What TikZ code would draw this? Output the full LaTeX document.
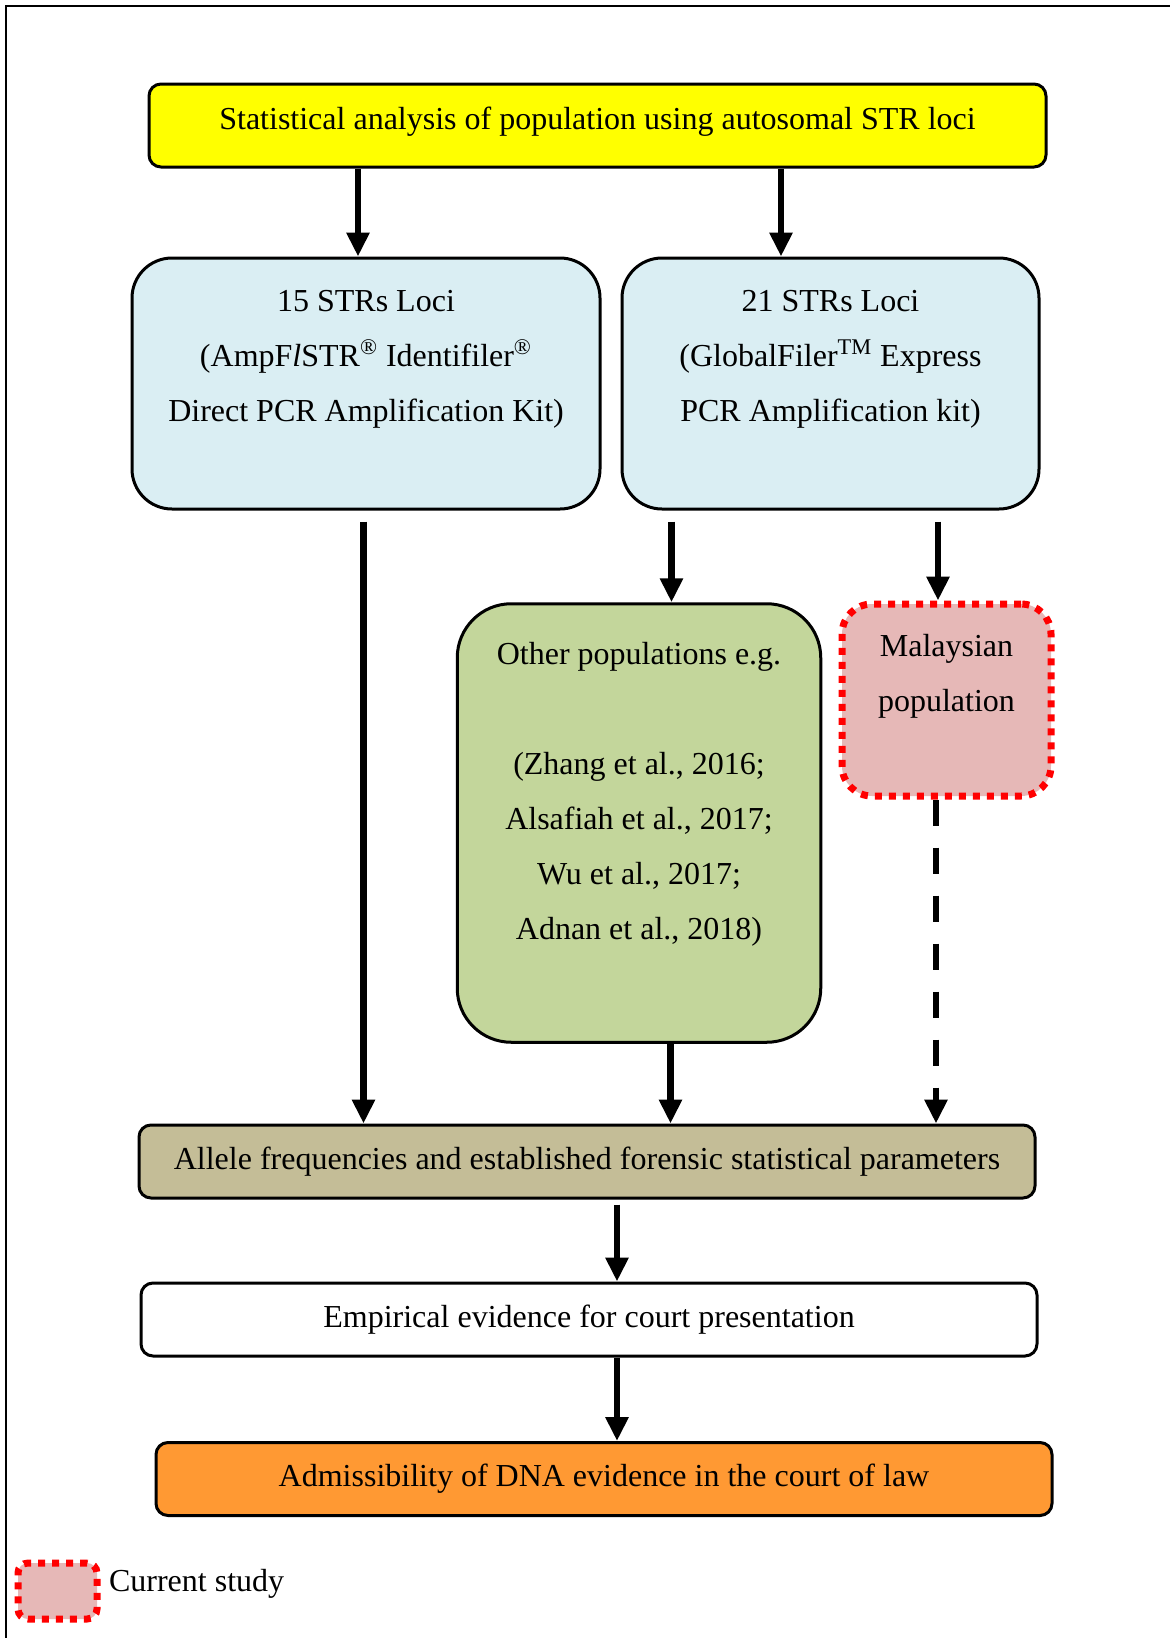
\documentclass[tikz,border=0pt]{standalone}
\usepackage{fontspec}
\setmainfont{Liberation Serif}
\usetikzlibrary{arrows.meta}
\definecolor{statyellow}{HTML}{FFFF00}
\definecolor{lociblue}{HTML}{DAEEF3}
\definecolor{othergreen}{HTML}{C3D69B}
\definecolor{studypink}{HTML}{E6B8B7}
\definecolor{alleletan}{HTML}{C4BD97}
\definecolor{courtorange}{HTML}{FF9933}

\begin{document}
\begin{tikzpicture}[x=0.5pt,y=-0.5pt,
	every node/.style={font=\fontsize{16}{27.5}\selectfont, align=center},
	box/.style={draw, line width=1.5pt, rounded corners=#1},
	box/.default=6pt,
	study/.style={draw=red, fill=studypink, line width=3.5pt, dash pattern=on 3.5pt off 3.5pt, rounded corners=#1},
	study/.default=15pt,
	arr/.style={line width=3.2pt, -{Triangle[width=11pt,length=12pt]}}]
	\useasboundingbox (0,0) rectangle (1170,1638);
	\draw[line width=1pt] (6,6) rectangle (1200,1700);

	\node[box, fill=statyellow, minimum width=448.5pt, minimum height=41.5pt, text depth=7.5pt] (top) at (597.5,125.5)
		{Statistical analysis of population using autosomal STR loci};
	\node[box=20pt, fill=lociblue, minimum width=234pt, minimum height=125.5pt] (c15) at (366,383.5)
		{15 STRs Loci\\ (AmpF\textit{l}STR\textsuperscript{\textregistered} Identifiler\textsuperscript{\textregistered}\\ Direct PCR Amplification Kit)\\ ~};
	\node[box=20pt, fill=lociblue, minimum width=208.5pt, minimum height=125.5pt] (c21) at (830.5,383.5)
		{21 STRs Loci\\ (GlobalFiler\textsuperscript{TM} Express\\ PCR Amplification kit)\\ ~};
	\node[box=27pt, fill=othergreen, minimum width=181.75pt, minimum height=219.25pt] (other) at (639,823)
		{Other populations e.g.\\ ~\\ (Zhang et al., 2016;\\ Alsafiah et al., 2017;\\ Wu et al., 2017;\\ Adnan et al., 2018)\\[5pt] ~};
	\node[study, minimum width=104.5pt, minimum height=96pt] (malay) at (946.5,700)
		{Malaysian\\ population\\ ~};
	\node[box, fill=alleletan, minimum width=448pt, minimum height=36.5pt] (allele) at (587,1161.5)
		{Allele frequencies and established forensic statistical parameters};
	\node[box, fill=white, minimum width=448pt, minimum height=36.5pt] (emp) at (589,1319.5)
		{Empirical evidence for court presentation};
	\node[box, fill=courtorange, minimum width=448pt, minimum height=36.5pt] (court) at (604,1479)
		{Admissibility of DNA evidence in the court of law};

	% legend
	\node[study=5pt, minimum width=39.5pt, minimum height=28pt] (key) at (57.5,1591) {};
	\node[anchor=west] (keytext) at (102,1584) {Current study};

	\coordinate (p1) at ([xshift=-4pt]c15.north);
	\coordinate (p2) at ([xshift=-24.75pt]c21.north);
	\coordinate (p3) at ([xshift=-1.25pt]c15.south);
	\coordinate (p4) at ([xshift=16.25pt]other.north);
	\coordinate (p5) at ([xshift=-4.25pt]malay.north);
	\coordinate (p6) at ([xshift=15.75pt]other.south);
	\coordinate (p7) at ([xshift=-5.25pt]malay.south);
	\coordinate (p8) at ([xshift=15pt]allele.south);
	\coordinate (p9) at ([xshift=14pt]emp.south);

	\path[arr]
	(p1 |- top.south) edge (p1)
	(p2 |- top.south) edge (p2)
	(p3) edge[shorten <=5.5pt] (p3 |- allele.north)
	(p4 |- c21.south) edge[shorten <=5.5pt] (p4)
	(p5 |- c21.south) edge[shorten <=5.5pt] (p5)
	(p6) edge (p6 |- allele.north)
	(p7) edge[dash pattern=on 13pt off 11pt] (p7 |- allele.north)
	(p8) edge[shorten <=2.5pt] (p8 |- emp.north)
	(p9) edge (p9 |- court.north);
\end{tikzpicture}
\end{document}
